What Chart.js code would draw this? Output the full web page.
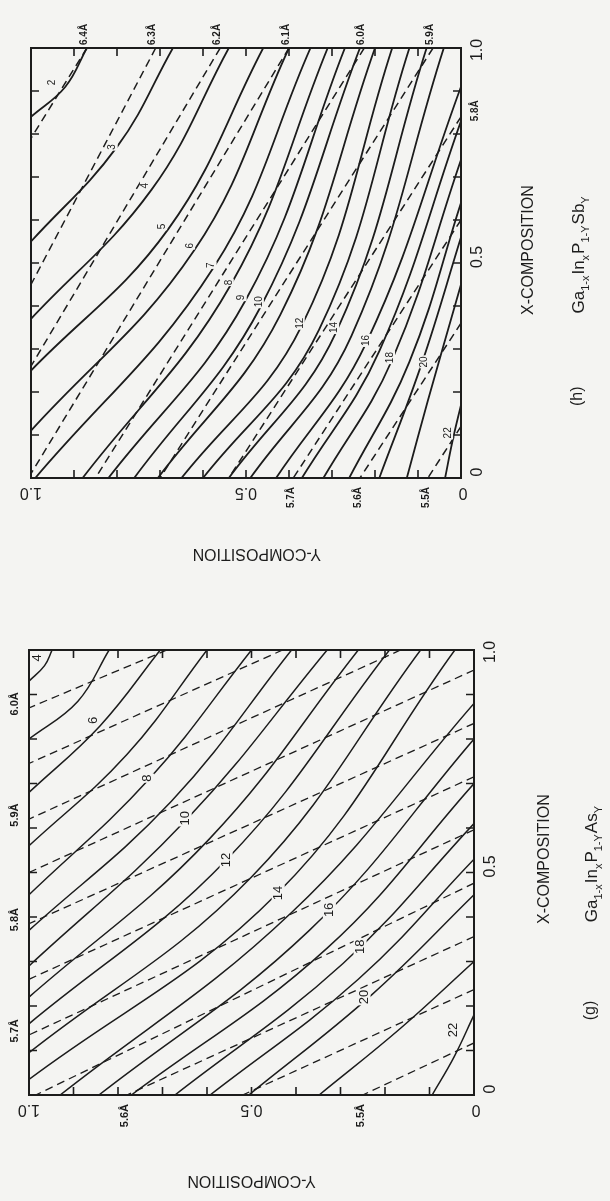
<!DOCTYPE html>
<html>
<head>
<meta charset="utf-8">
<script src="https://cdn.jsdelivr.net/npm/chart.js@4.4.1/dist/chart.umd.min.js"></script>
<style>
  html, body { margin: 0; padding: 0; background: #f4f4f2; }
  body { width: 610px; height: 1201px; position: relative; overflow: hidden; }
  canvas { position: absolute; left: 0; }
  #chartH { top: 0; }
  #chartG { top: 600px; }
</style>
</head>
<body>
<canvas id="chartH" width="610" height="600"></canvas>
<canvas id="chartG" width="610" height="601"></canvas>
<script>
// both panels: points are [Y-composition, X-composition]
// Y runs along the bottom edge (1.0 at the left), X runs up the right edge
const compTicks = [0, 0.5, 1];
const compTickText = ['0', '0.5', '1.0'];

// ---- (h) Ga1-x In x P1-y Sb y ----
// solid: band gap contours 0.2 .. 2.2 eV
const hGapCurves = [
  [[0.87, 1], [0.92, 0.91], [1, 0.84]],
  [[0.67, 1], [0.80, 0.77], [1, 0.55]],
  [[0.54, 1], [0.72, 0.67], [1, 0.37]],
  [[0.46, 1], [0.68, 0.58], [1, 0.25]],
  [[0.40, 1], [0.62, 0.53], [1, 0.11]],
  [[0.35, 1], [0.575, 0.49], [0.99, 0]],
  [[0.31, 1], [0.535, 0.45], [0.88, 0]],
  [[0.27, 1], [0.50, 0.415], [0.82, 0]],
  [[0.235, 1], [0.465, 0.40], [0.76, 0]],
  [[0.20, 1], [0.42, 0.38], [0.705, 0]],
  [[0.16, 1], [0.37, 0.355], [0.65, 0]],
  [[0.12, 1], [0.33, 0.345], [0.60, 0]],
  [[0.08, 1], [0.29, 0.34], [0.54, 0]],
  [[0.04, 1], [0.255, 0.33], [0.49, 0]],
  [[0, 0.91], [0.22, 0.315], [0.43, 0]],
  [[0, 0.83], [0.19, 0.295], [0.37, 0]],
  [[0, 0.74], [0.16, 0.275], [0.32, 0]],
  [[0, 0.64], [0.12, 0.27], [0.26, 0]],
  [[0, 0.56], [0.09, 0.27], [0.19, 0]],
  [[0, 0.45], [0.077, 0.18], [0.126, 0]],
  [[0, 0.17], [0.02, 0.085], [0.037, 0]]
];
const hGapTags = ['2', '3', '4', '5', '6', '7', '8', '9', '10', '12', '14', '16', '18', '20', '22'];
const hGapTagPos = [
  [0.95, 0.92], [0.81, 0.77], [0.735, 0.68], [0.695, 0.585], [0.63, 0.54],
  [0.58, 0.495], [0.54, 0.455], [0.51, 0.42], [0.47, 0.41], [0.375, 0.36],
  [0.295, 0.35], [0.22, 0.32], [0.165, 0.28], [0.085, 0.27], [0.03, 0.105]
];
// dashed: lattice constant contours
const hLatticeLines = [
  [[0.87, 1], [1, 0.79]],
  [[0.71, 1], [1, 0.45]],
  [[0.56, 1], [1, 0.26]],
  [[0.40, 1], [1, 0.01]],
  [[0.225, 1], [0.85, 0]],
  [[0.065, 1], [0.70, 0]],
  [[0, 0.84], [0.54, 0]],
  [[0, 0.60], [0.39, 0]],
  [[0, 0.36], [0.235, 0]],
  [[0, 0.12], [0.077, 0]]
];
const hLatticeNames = ['6.4Å', '6.3Å', '6.2Å', '6.1Å', '6.0Å', '5.9Å', '5.8Å', '5.7Å', '5.6Å', '5.5Å'];
const hLatticeEdge = ['top', 'top', 'top', 'top', 'top', 'top', 'right', 'bottom', 'bottom', 'bottom'];
const hFormula = [['Ga', '1-x'], ['In', 'x'], ['P', '1-Y'], ['Sb', 'Y']];

// ---- (g) Ga1-x In x P1-y As y ----
const gGapCurves = [
  [[0.948, 1], [0.965, 0.965], [1, 0.93]],
  [[0.82, 1], [0.89, 0.885], [1, 0.80]],
  [[0.705, 1], [0.84, 0.83], [1, 0.68]],
  [[0.60, 1], [0.78, 0.765], [1, 0.56]],
  [[0.50, 1], [0.73, 0.71], [1, 0.45]],
  [[0.41, 1], [0.68, 0.66], [1, 0.37]],
  [[0.33, 1], [0.645, 0.62], [1, 0.29]],
  [[0.26, 1], [0.595, 0.575], [1, 0.22]],
  [[0.19, 1], [0.555, 0.53], [1, 0.16]],
  [[0.12, 1], [0.50, 0.49], [1, 0.095]],
  [[0.043, 1], [0.44, 0.455], [1, 0.035]],
  [[0, 0.88], [0.41, 0.41], [0.93, 0]],
  [[0, 0.80], [0.37, 0.37], [0.843, 0]],
  [[0, 0.70], [0.33, 0.33], [0.77, 0]],
  [[0, 0.61], [0.295, 0.295], [0.672, 0]],
  [[0, 0.53], [0.26, 0.26], [0.593, 0]],
  [[0, 0.45], [0.23, 0.225], [0.506, 0]],
  [[0, 0.30], [0.165, 0.15], [0.348, 0]],
  [[0, 0.18], [0.045, 0.085], [0.094, 0]]
];
const gGapTags = ['4', '6', '8', '10', '12', '14', '16', '18', '20', '22'];
const gGapTagPos = [
  [0.982, 0.982], [0.855, 0.842], [0.733, 0.712], [0.649, 0.622], [0.557, 0.528],
  [0.44, 0.454], [0.325, 0.416], [0.256, 0.333], [0.247, 0.22], [0.047, 0.146]
];
const gLatticeLines = [
  [[0.69, 1], [1, 0.87]],
  [[0.43, 1], [1, 0.745]],
  [[0.165, 1], [1, 0.62]],
  [[0, 0.955], [1, 0.50]],
  [[0, 0.835], [1, 0.385]],
  [[0, 0.715], [1, 0.26]],
  [[0, 0.596], [1, 0.135]],
  [[0, 0.476], [0.985, 0]],
  [[0, 0.356], [0.78, 0]],
  [[0, 0.237], [0.52, 0]],
  [[0, 0.117], [0.25, 0]]
];
const gLatticeNames = ['6.0Å', '', '5.9Å', '', '5.8Å', '', '5.7Å', '', '5.6Å', '', '5.5Å'];
const gLatticeEdge = ['left', '', 'left', '', 'left', '', 'left', '', 'bottom', '', 'bottom'];
const gFormula = [['Ga', '1-x'], ['In', 'x'], ['P', '1-Y'], ['As', 'Y']];

const INK = '#1c1c1c';
const BG = '#f4f4f2';
const FONT = '"Liberation Sans", Arial, sans-serif';
const UP = -Math.PI / 2;
const FLIP = Math.PI;

function drawText(ctx, s, x, y, rot, font, align) {
  ctx.save();
  ctx.translate(x, y);
  ctx.rotate(rot);
  ctx.font = font;
  ctx.textAlign = align || 'center';
  ctx.textBaseline = 'middle';
  ctx.fillText(s, 0, 0);
  ctx.restore();
}

function drawFormula(ctx, parts, x, y, size) {
  const big = size + 'px ' + FONT, small = Math.round(size * 0.62) + 'px ' + FONT;
  ctx.save();
  ctx.translate(x, y);
  ctx.rotate(UP);
  ctx.textAlign = 'left';
  ctx.textBaseline = 'middle';
  let w = 0;
  parts.forEach(p => {
    ctx.font = big; w += ctx.measureText(p[0]).width;
    ctx.font = small; w += ctx.measureText(p[1]).width + 1;
  });
  let cx = -w / 2;
  parts.forEach(p => {
    ctx.font = big; ctx.fillText(p[0], cx, 0); cx += ctx.measureText(p[0]).width;
    ctx.font = small; ctx.fillText(p[1], cx, size * 0.4); cx += ctx.measureText(p[1]).width + 1;
  });
  ctx.restore();
}

const decor = {
  id: 'decor',
  afterDatasetsDraw(chart, args, o) {
    const ctx = chart.ctx, a = chart.chartArea;
    const sx = chart.scales.x, sy = chart.scales.y;
    const X = v => sx.getPixelForValue(v), Y = v => sy.getPixelForValue(v);
    ctx.save();
    ctx.strokeStyle = INK;
    ctx.fillStyle = INK;

    // frame and inward ticks every 0.1
    ctx.lineWidth = 2;
    ctx.strokeRect(a.left, a.top, a.right - a.left, a.bottom - a.top);
    ctx.lineWidth = 1.6;
    ctx.beginPath();
    sx.ticks.forEach(t => {
      if (t.value < 0.01 || t.value > 0.99) return;
      const p = X(t.value);
      ctx.moveTo(p, a.top); ctx.lineTo(p, a.top + 8);
      ctx.moveTo(p, a.bottom); ctx.lineTo(p, a.bottom - 8);
    });
    sy.ticks.forEach(t => {
      if (t.value < 0.01 || t.value > 0.99) return;
      const p = Y(t.value);
      ctx.moveTo(a.left, p); ctx.lineTo(a.left + 8, p);
      ctx.moveTo(a.right, p); ctx.lineTo(a.right - 8, p);
    });
    ctx.stroke();

    // contour values written on the solid lines
    const tf = o.tagSize + 'px ' + FONT;
    ctx.font = tf;
    o.tags.forEach((s, i) => {
      const px = X(o.tagPos[i][0]), py = Y(o.tagPos[i][1]);
      const w = ctx.measureText(s).width;
      ctx.fillStyle = BG;
      ctx.fillRect(px - o.tagSize / 2, py - w / 2 - 1, o.tagSize, w + 2);
      ctx.fillStyle = INK;
      drawText(ctx, s, px, py, UP, tf);
    });

    // lattice constant names at the dashed line ends
    const lf = 'bold ' + o.latticeSize + 'px ' + FONT;
    o.latticeNames.forEach((s, i) => {
      if (!s) return;
      const line = o.latticeLines[i], edge = o.latticeEdge[i];
      if (edge === 'top') {
        const p = line.find(q => q[1] > 0.99);
        drawText(ctx, s, X(p[0]) - 3, a.top - 3, UP, lf, 'left');
      } else if (edge === 'right') {
        const p = line.find(q => q[0] < 0.01);
        drawText(ctx, s, a.right + 14, Y(p[1]) - 6, UP, lf, 'center');
      } else if (edge === 'bottom') {
        const p = line.find(q => q[1] < 0.01);
        drawText(ctx, s, X(p[0]) - 2, a.bottom + 9, UP, lf, 'right');
      } else {
        const p = line.find(q => q[0] > 0.99);
        drawText(ctx, s, a.left - 14, Y(p[1]) - 4, UP, lf, 'center');
      }
    });

    // composition tick labels
    const kf = '16px ' + FONT;
    compTicks.forEach((v, i) => {
      drawText(ctx, compTickText[i], a.right + 17, Y(v) - (v === 0 ? 6 : v === 1 ? -2 : 6), UP, kf);
      drawText(ctx, compTickText[i], X(v) + (v === 0 ? 2 : 0), a.bottom + 14, FLIP, kf);
    });

    // titles
    drawText(ctx, 'X-COMPOSITION', a.right + o.xTitleGap, Y(0.53), UP, '16px ' + FONT);
    drawText(ctx, 'Y-COMPOSITION', X(o.yTitleAt), a.bottom + o.yTitleGap, FLIP, '16px ' + FONT);
    drawFormula(ctx, o.formula, a.right + 118, Y(0.52), 17);
    drawText(ctx, o.panel, a.right + 117, Y(0.19), UP, '16px ' + FONT);
    ctx.restore();
  }
};

function makeDatasets(gapCurves, latticeLines, solidWidth, dashWidth) {
  const sets = [];
  gapCurves.forEach(c => sets.push({
    data: c.map(p => ({ x: p[0], y: p[1] })),
    showLine: true, borderColor: INK, borderWidth: solidWidth,
    pointRadius: 0, tension: 0.4, fill: false
  }));
  latticeLines.forEach(c => sets.push({
    data: c.map(p => ({ x: p[0], y: p[1] })),
    showLine: true, borderColor: INK, borderWidth: dashWidth, borderDash: [8, 5],
    pointRadius: 0, tension: 0, fill: false
  }));
  return sets;
}

function makeChart(id, padding, datasets, decorOpts) {
  const config = {
    type: 'scatter',
    data: { datasets },
    options: {
      responsive: false,
      animation: false,
      events: [],
      layout: { padding },
      scales: {
        x: { type: 'linear', reverse: true, min: 0, max: 1, display: false, ticks: { stepSize: 0.1 } },
        y: { type: 'linear', min: 0, max: 1, display: false, ticks: { stepSize: 0.1 } }
      },
      plugins: {
        legend: { display: false },
        tooltip: { enabled: false },
        decor: decorOpts
      }
    },
    plugins: [decor]
  };
  return new Chart(document.getElementById(id).getContext('2d'), config);
}

const chartH = makeChart('chartH',
  { left: 31, right: 149, top: 48, bottom: 122 },
  makeDatasets(hGapCurves, hLatticeLines, 1.8, 1.5),
  {
    tags: hGapTags, tagPos: hGapTagPos, tagSize: 10,
    latticeLines: hLatticeLines, latticeNames: hLatticeNames, latticeEdge: hLatticeEdge, latticeSize: 10,
    formula: hFormula, panel: '(h)', xTitleGap: 68, yTitleAt: 0.475, yTitleGap: 75
  });

const chartG = makeChart('chartG',
  { left: 29, right: 136, top: 50, bottom: 106 },
  makeDatasets(gGapCurves, gLatticeLines, 1.5, 1.3),
  {
    tags: gGapTags, tagPos: gGapTagPos, tagSize: 13,
    latticeLines: gLatticeLines, latticeNames: gLatticeNames, latticeEdge: gLatticeEdge, latticeSize: 11,
    formula: gFormula, panel: '(g)', xTitleGap: 71, yTitleAt: 0.5, yTitleGap: 85
  });
</script>
</body>
</html>
